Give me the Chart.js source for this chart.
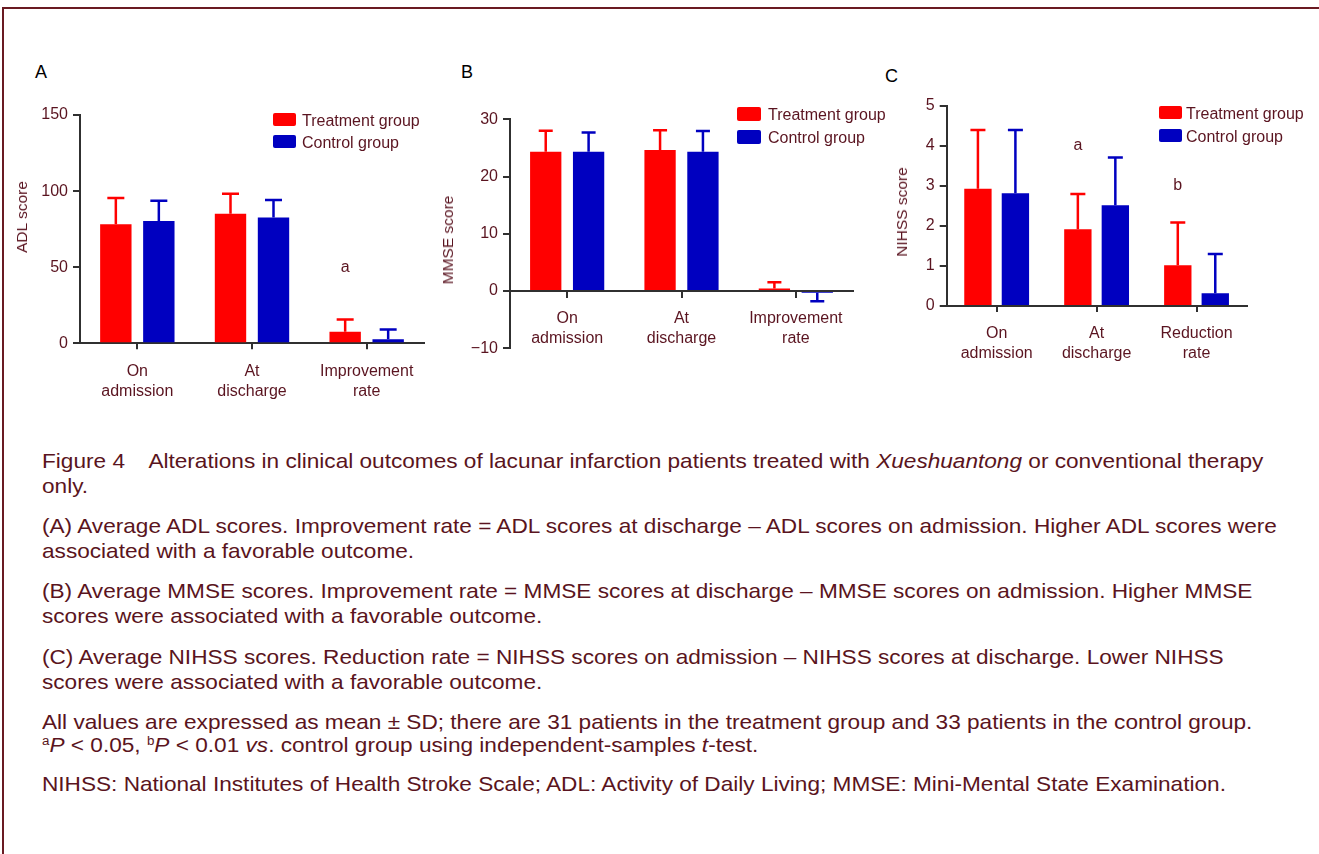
<!DOCTYPE html>
<html>
<head>
<meta charset="utf-8">
<script src="https://cdn.jsdelivr.net/npm/chart.js@4.4.0/dist/chart.umd.min.js"></script>
<style>
  html, body { margin:0; padding:0; background:#fff; }
  body { width:1319px; height:854px; position:relative; overflow:hidden; font-family:"Liberation Sans", Arial, sans-serif; color:#5a1420; }
  .frame { position:absolute; left:2px; top:7px; width:1400px; height:900px; border-top:2px solid #6a1a22; border-left:2px solid #6a1a22; }
  canvas { position:absolute; }
  .t { position:absolute; white-space:nowrap; font-size:16px; line-height:16px; }
  .letter { color:#000; font-size:18px; line-height:18px; }
  .sw { position:absolute; border-radius:2px; }
  .ytitle { position:absolute; white-space:nowrap; font-size:15.5px; line-height:16px; transform:translate(-50%,-50%) rotate(-90deg); }
  .cap { position:absolute; left:42px; white-space:nowrap; font-size:20.3px; line-height:25px; transform:scaleX(1.115); transform-origin:0 0; }
  .cap sup { font-size:12px; line-height:0; vertical-align:7px; }
</style>
</head>
<body>
<div class="frame"></div>

<canvas id="chartA" width="440" height="320" style="left:0px;top:100px"></canvas>
<canvas id="chartB" width="440" height="290" style="left:430px;top:95px"></canvas>
<canvas id="chartC" width="449" height="300" style="left:870px;top:90px"></canvas>

<div class="t letter" style="left:35px;top:63px">A</div>
<div class="t letter" style="left:461px;top:63px">B</div>
<div class="t letter" style="left:885px;top:66.5px">C</div>

<div class="ytitle" style="left:22px;top:217px">ADL score</div>
<div class="ytitle" style="left:448px;top:240px">MMSE score</div>
<div class="ytitle" style="left:902px;top:212px">NIHSS score</div>

<div class="sw" style="left:273px;top:113px;width:23px;height:13px;background:#ff0000"></div>
<div class="t" style="left:302px;top:112.5px">Treatment group</div>
<div class="sw" style="left:273px;top:135px;width:23px;height:13px;background:#0000c0"></div>
<div class="t" style="left:302px;top:134.5px">Control group</div>

<div class="sw" style="left:737px;top:107px;width:24px;height:13.5px;background:#ff0000"></div>
<div class="t" style="left:768px;top:107px">Treatment group</div>
<div class="sw" style="left:737px;top:130px;width:24px;height:13.5px;background:#0000c0"></div>
<div class="t" style="left:768px;top:130px">Control group</div>

<div class="sw" style="left:1159px;top:106px;width:23px;height:13px;background:#ff0000"></div>
<div class="t" style="left:1186px;top:105.5px">Treatment group</div>
<div class="sw" style="left:1159px;top:129px;width:23px;height:13px;background:#0000c0"></div>
<div class="t" style="left:1186px;top:128.5px">Control group</div>

<div class="cap" style="top:449px">Figure 4<span style="display:inline-block;width:21px"></span>Alterations in clinical outcomes of lacunar infarction patients treated with <i>Xueshuantong</i> or conventional therapy<br>only.</div>
<div class="cap" style="top:514px">(A) Average ADL scores. Improvement rate = ADL scores at discharge – ADL scores on admission. Higher ADL scores were<br>associated with a favorable outcome.</div>
<div class="cap" style="top:579px">(B) Average MMSE scores. Improvement rate = MMSE scores at discharge – MMSE scores on admission. Higher MMSE<br>scores were associated with a favorable outcome.</div>
<div class="cap" style="top:644.5px">(C) Average NIHSS scores. Reduction rate = NIHSS scores on admission – NIHSS scores at discharge. Lower NIHSS<br>scores were associated with a favorable outcome.</div>
<div class="cap" style="top:710.5px;line-height:23.5px">All values are expressed as mean ± SD; there are 31 patients in the treatment group and 33 patients in the control group.<br><sup>a</sup><i>P</i> &lt; 0.05, <sup>b</sup><i>P</i> &lt; 0.01 <i>vs</i>. control group using independent-samples <i>t</i>-test.</div>
<div class="cap" style="top:771.5px">NIHSS: National Institutes of Health Stroke Scale; ADL: Activity of Daily Living; MMSE: Mini-Mental State Examination.</div>

<script>
// ---------- data ----------
const groups = ['Treatment group', 'Control group'];

const adlLabels = [['On', 'admission'], ['At', 'discharge'], ['Improvement', 'rate']];
const adlTreat = [78.3, 85.2, 7.6];
const adlTreatSd = [17.1, 13.0, 8.0];
const adlCtrl = [80.4, 82.6, 2.6];
const adlCtrlSd = [13.3, 11.5, 6.5];
const adlMarks = ['', '', 'a'];
const adlMarkAt = [0, 0, 50];
const adlTicks = [0, 50, 100, 150];

const mmseLabels = [['On', 'admission'], ['At', 'discharge'], ['Improvement', 'rate']];
const mmseTreat = [24.35, 24.65, 0.45];
const mmseTreatSd = [3.65, 3.45, 1.1];
const mmseCtrl = [24.35, 24.35, -0.3];
const mmseCtrlSd = [3.35, 3.6, 1.5];
const mmseTicks = [-10, 0, 10, 20, 30];

const nihssLabels = [['On', 'admission'], ['At', 'discharge'], ['Reduction', 'rate']];
const nihssTreat = [2.93, 1.92, 1.02];
const nihssTreatSd = [1.47, 0.88, 1.07];
const nihssCtrl = [2.82, 2.52, 0.32];
const nihssCtrlSd = [1.58, 1.19, 0.98];
const nihssMarks = ['', 'a', 'b'];
const nihssMarkAt = [0, 4.0, 3.0];
const nihssTicks = [0, 1, 2, 3, 4, 5];

// ---------- styling ----------
const RED = '#ff0000', BLUE = '#0000c0';
const TXT = '#5a1420', AXIS = '#303030';
const FONT = {family: '"Liberation Sans", Arial, sans-serif', size: 16, lineHeight: 1.25};

// error bars: from the bar end away from zero, with a cap
const errorBars = {
  id: 'errorBars',
  afterDatasetsDraw(chart, args, opts) {
    const ctx = chart.ctx, y = chart.scales.y;
    chart.data.datasets.forEach((ds, i) => {
      const meta = chart.getDatasetMeta(i);
      meta.data.forEach((bar, j) => {
        const v = ds.data[j], sd = ds.errors[j];
        const end = v + (v < 0 ? -sd : sd);
        const y0 = y.getPixelForValue(v), y1 = y.getPixelForValue(end);
        ctx.save();
        ctx.strokeStyle = ds.backgroundColor;
        ctx.lineWidth = 2.5;
        ctx.beginPath();
        ctx.moveTo(bar.x, y0); ctx.lineTo(bar.x, y1);
        ctx.moveTo(bar.x - opts.cap / 2, y1); ctx.lineTo(bar.x + opts.cap / 2, y1);
        ctx.stroke();
        ctx.restore();
      });
    });
  }
};

// significance letters above the treatment bars
const sigMarks = {
  id: 'sigMarks',
  afterDatasetsDraw(chart, args, opts) {
    if (!opts.marks) return;
    const ctx = chart.ctx, y = chart.scales.y;
    const meta = chart.getDatasetMeta(0);
    ctx.save();
    ctx.fillStyle = TXT;
    ctx.font = '16px "Liberation Sans", Arial, sans-serif';
    ctx.textAlign = 'center'; ctx.textBaseline = 'middle';
    opts.marks.forEach((m, j) => {
      if (m) ctx.fillText(m, meta.data[j].x, y.getPixelForValue(opts.at[j]));
    });
    ctx.restore();
  }
};

function makeChart(id, cfg) {
  return new Chart(document.getElementById(id), {
    type: 'bar',
    data: {
      labels: cfg.labels,
      datasets: [
        {label: groups[0], data: cfg.treat, errors: cfg.treatSd, backgroundColor: RED,
         categoryPercentage: 0.75, barPercentage: 0.73},
        {label: groups[1], data: cfg.ctrl, errors: cfg.ctrlSd, backgroundColor: BLUE,
         categoryPercentage: 0.75, barPercentage: 0.73}
      ]
    },
    options: {
      responsive: false, animation: false, devicePixelRatio: 1,
      layout: {padding: cfg.pad},
      plugins: {
        legend: {display: false}, tooltip: {enabled: false},
        errorBars: {cap: cfg.cap},
        sigMarks: {marks: cfg.marks, at: cfg.markAt}
      },
      scales: {
        x: {
          position: cfg.xPos,
          offset: true,
          border: {display: true, color: AXIS, width: 2},
          grid: {display: true, offset: false, drawOnChartArea: false, drawTicks: true, tickLength: 6, color: AXIS, lineWidth: 2},
          ticks: {color: TXT, font: FONT, padding: 12, maxRotation: 0, autoSkip: false},
          afterFit: s => { if (cfg.xH) s.height = cfg.xH; }
        },
        y: {
          min: cfg.ticks[0], max: cfg.ticks[cfg.ticks.length - 1],
          afterBuildTicks: s => { s.ticks = cfg.ticks.map(v => ({value: v})); },
          border: {display: true, color: AXIS, width: 2},
          grid: {display: true, drawOnChartArea: false, drawTicks: true, tickLength: 7, color: AXIS, lineWidth: 2},
          ticks: {color: TXT, font: FONT, padding: 5, callback: v => String(v).replace('-', '\u2212')},
          afterFit: s => { s.width = cfg.yW; }
        }
      }
    },
    plugins: [errorBars, sigMarks]
  });
}

makeChart('chartA', {
  labels: adlLabels, treat: adlTreat, treatSd: adlTreatSd, ctrl: adlCtrl, ctrlSd: adlCtrlSd,
  marks: adlMarks, markAt: adlMarkAt, ticks: adlTicks,
  pad: {top: 13.3, right: 16, left: 0, bottom: 0}, yW: 80, xH: 76.7, xPos: 'bottom', cap: 17
});
makeChart('chartB', {
  labels: mmseLabels, treat: mmseTreat, treatSd: mmseTreatSd, ctrl: mmseCtrl, ctrlSd: mmseCtrlSd,
  marks: null, markAt: null, ticks: mmseTicks,
  pad: {top: 24.3, right: 17, left: 0, bottom: 36.7}, yW: 80, xH: 0, xPos: {y: 0}, cap: 14
});
makeChart('chartC', {
  labels: nihssLabels, treat: nihssTreat, treatSd: nihssTreatSd, ctrl: nihssCtrl, ctrlSd: nihssCtrlSd,
  marks: nihssMarks, markAt: nihssMarkAt, ticks: nihssTicks,
  pad: {top: 16, right: 72.5, left: 0, bottom: 0}, yW: 76.7, xH: 84, xPos: 'bottom', cap: 15
});
</script>
</body>
</html>
